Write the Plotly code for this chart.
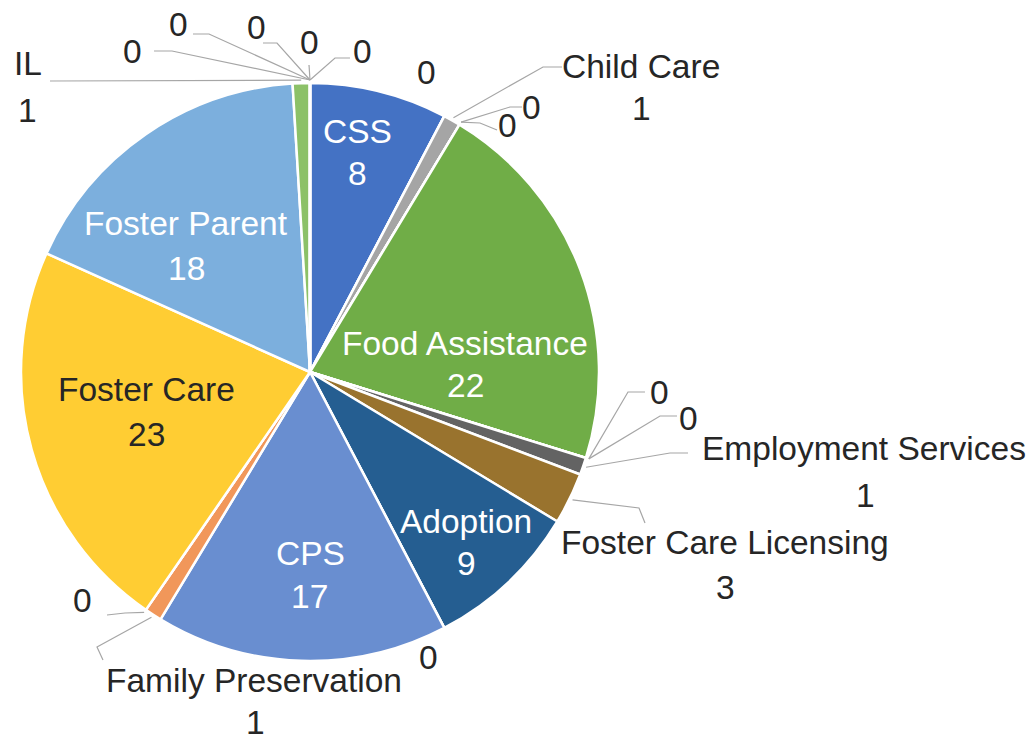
import math
import plotly.graph_objects as go

# ---------------- data ----------------
categories = ["CSS", "blank 1", "Child Care", "blank 2", "blank 3", "Food Assistance",
              "blank 4", "blank 5", "Employment Services", "Foster Care Licensing",
              "Adoption", "blank 6", "CPS", "Family Preservation", "blank 7",
              "Foster Care", "Foster Parent", "IL",
              "blank 8", "blank 9", "blank 10", "blank 11", "blank 12"]
display_names = ["CSS", "", "Child Care", "", "", "Food Assistance", "", "",
                 "Employment Services", "Foster Care Licensing", "Adoption", "", "CPS",
                 "Family Preservation", "", "Foster Care", "Foster Parent", "IL",
                 "", "", "", "", ""]
values = [8, 0, 1, 0, 0, 22, 0, 0, 1, 3, 9, 0, 17, 1, 0, 23, 18, 1, 0, 0, 0, 0, 0]

# ---------------- style ----------------
colors = ["#4472C4", "#ED7D31", "#A5A5A5", "#FFC000", "#5B9BD5", "#70AD47",
          "#264478", "#9E480E", "#636363", "#99732E", "#255E91", "#43682B",
          "#698ED0", "#F1975A", "#B7B7B7", "#FFCD33", "#7CAFDD", "#8CC168",
          "#335AA1", "#D26012", "#848484", "#CC9A00", "#3C86C6"]

W, H = 1034, 742
CX, CY, R = 310, 372, 289          # pie centre / radius in pixels
FONT = "Liberation Sans, Arial, sans-serif"
FS = 33.5
DARK = "#262626"
LEADER = "#A6A6A6"

# label placement (pixel centres): name line, value line, text colour
label_style = {
    0: ((357, 131), (357, 174), "white"),
    1: (None, (426, 72), DARK),
    2: ((641, 67), (641, 109), DARK),
    3: (None, (531, 107), DARK),
    4: (None, (507, 126), DARK),
    5: ((465, 343), (465, 385), "white"),
    6: (None, (659, 392), DARK),
    7: (None, (688, 418), DARK),
    8: ((864, 449), (865, 495), DARK),
    9: ((725, 542), (725, 587), DARK),
    10: ((466, 521), (466, 563), "white"),
    11: (None, (428, 657), DARK),
    12: ((310, 553), (309, 596), "white"),
    13: ((254, 680), (255, 722), DARK),
    14: (None, (82, 600), DARK),
    15: ((146, 390), (146, 434), DARK),
    16: ((186, 224), (186, 268), "white"),
    17: ((28, 64), (27, 110), DARK),
    18: (None, (132, 51), DARK),
    19: (None, (178, 25), DARK),
    20: (None, (256, 27), DARK),
    21: (None, (309, 43), DARK),
    22: (None, (362, 51), DARK),
}
# leader line bends / ends near labels (pixels)
leader_style = {
    2: [(543, 67), (562, 67)],
    3: [(510, 107), (522, 107)],
    4: [(480, 123), (497, 130)],
    6: [(628, 392), (645, 392)],
    7: [(660, 416), (677, 416)],
    8: [(670, 453), (688, 453)],
    9: [(639, 508), (645, 523)],
    13: [(97, 647), (103, 660)],
    14: [(125, 613), (107, 615)],
    17: [(50, 81)],
    18: [(172, 51), (154, 51)],
    19: [(209, 34), (193, 34)],
    20: [(277, 43), (263, 43)],
    21: [(309, 65)],
    22: [(335, 58), (350, 58)],
}


def px(x):
    return x / W


def py(y):
    return 1 - y / H


fig = go.Figure(go.Pie(
    labels=categories,
    values=values,
    sort=False,
    direction="clockwise",
    rotation=0,
    marker=dict(colors=colors, line=dict(color="white", width=2.5)),
    textinfo="none",
    hoverinfo="label+value",
    showlegend=False,
    domain=dict(x=[px(CX - R), px(CX + R)], y=[py(CY + R), py(CY - R)]),
))

total = sum(values)
annotations = []
shapes = []
cum = 0
for i, v in enumerate(values):
    mid = (cum + v / 2) / total * 2 * math.pi
    cum += v
    name_pos, val_pos, col = label_style[i]
    if name_pos is not None:
        annotations.append(dict(x=px(name_pos[0]), y=py(name_pos[1]), xref="paper", yref="paper",
                                text=display_names[i], showarrow=False, xanchor="center",
                                yanchor="middle", font=dict(family=FONT, size=FS, color=col)))
    annotations.append(dict(x=px(val_pos[0]), y=py(val_pos[1]), xref="paper", yref="paper",
                            text=str(v), showarrow=False, xanchor="center", yanchor="middle",
                            font=dict(family=FONT, size=FS, color=col)))
    if i in leader_style:
        sx = CX + (R + 3) * math.sin(mid)
        sy = CY - (R + 3) * math.cos(mid)
        pts = [(sx, sy)] + leader_style[i]
        path = "M " + " L ".join(f"{px(a):.5f},{py(b):.5f}" for a, b in pts)
        shapes.append(dict(type="path", path=path, xref="paper", yref="paper",
                           line=dict(color=LEADER, width=1.2)))

fig.update_layout(
    width=W, height=H,
    margin=dict(l=0, r=0, t=0, b=0),
    paper_bgcolor="white", plot_bgcolor="white",
    annotations=annotations, shapes=shapes,
)

fig.write_html("out.html", config={"displayModeBar": False},
               post_script="document.body.style.margin='0';")
